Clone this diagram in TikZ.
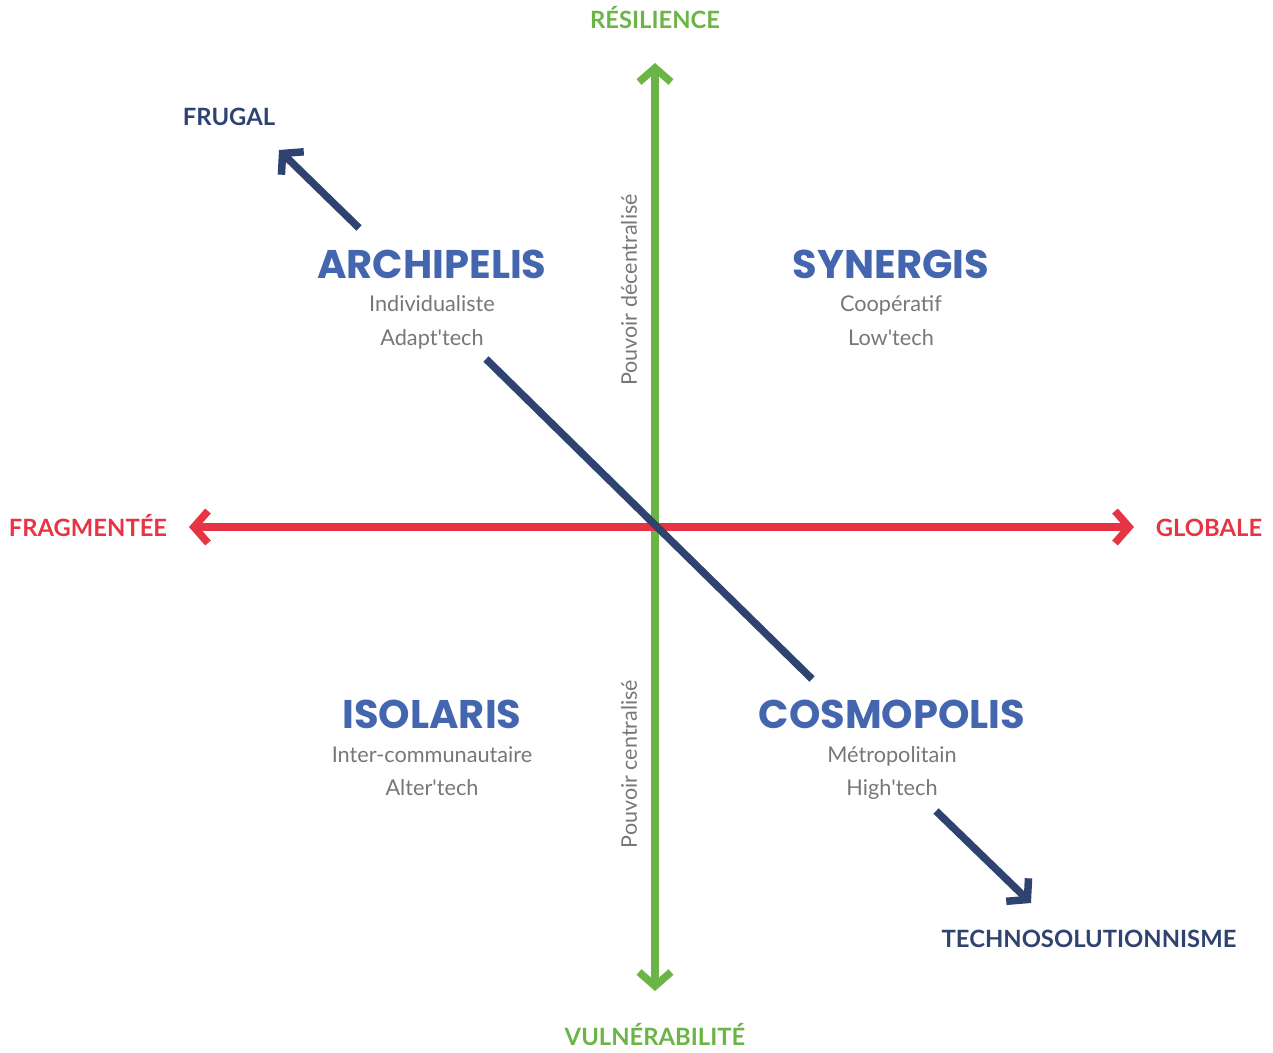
\documentclass[tikz,border=0pt]{standalone}
\usepackage{fontspec}
\setmainfont{Lato}
\newfontfamily\titlefont{Poppins}
\usetikzlibrary{arrows.meta}

\definecolor{axisgreen}{HTML}{6BB547}
\definecolor{axisred}{HTML}{E63444}
\definecolor{navy}{HTML}{2F4370}
\definecolor{titleblue}{HTML}{4466AE}
\definecolor{subgray}{HTML}{777777}

\tikzset{
  barb/.tip={Straight Barb[length=14pt,width=32pt]},
  axis/.style={line width=7.5pt},
  poleA/.style={font=\fontsize{23.8}{24}\selectfont\bfseries, inner sep=0pt, anchor=base},
  scen/.style={font=\titlefont\bfseries\fontsize{40}{40}\selectfont, text=titleblue, inner sep=0pt, anchor=base},
  sub/.style={font=\fontsize{21.7}{22}\selectfont, text=subgray, inner sep=0pt, anchor=base},
  power/.style={font=\fontsize{21.5}{22}\selectfont, text=subgray, inner sep=0pt, rotate=90},
}

\begin{document}
\begin{tikzpicture}[x=1pt,y=-1pt]
\useasboundingbox (0,0) rectangle (1273,1052);

% axis end points
\coordinate (top) at (655,63);
\coordinate (bot) at (655,991);
\coordinate (left) at (189,527);
\coordinate (right) at (1134,527);

% diagonal segments
\coordinate (fa) at (359,228);
\coordinate (ft) at (279,150);
\coordinate (da) at (486,359);
\coordinate (db) at (812,679);
\coordinate (ta) at (936,811);
\coordinate (tt) at (1031,903);

% axes
\draw[axis, axisgreen, barb-barb] (top) -- (bot);
\draw[axis, axisred, barb-barb] (left) -- (right);

% navy diagonal
\draw[axis, navy] (da) -- (db);
\draw[axis, navy, -barb] (fa) -- (ft);
\draw[axis, navy, -barb] (ta) -- (tt);

% pole labels
\node[poleA, text=axisgreen] (res) at (655,28) {RÉSILIENCE};
\node[poleA, text=axisgreen] (vul) at (655,1045) {VULNÉRABILITÉ};
\node[poleA, text=axisred] (frag) at (88,536) {FRAGMENTÉE};
\node[poleA, text=axisred] (glob) at (1209,536) {GLOBALE};
\node[poleA, text=navy] (frug) at (229,125) {FRUGAL};
\node[poleA, text=navy] (techno) at (1089,947) {TECHNOSOLUTIONNISME};

% power labels along the vertical axis
\node[power] (dec) at (629,290) {Pouvoir décentralisé};
\node[power] (cen) at (629,764) {Pouvoir centralisé};

% scenarios
\node[scen] (archi) at (432,278) {ARCHIPELIS};
\node[sub] (archi1) at (432,311) {Individualiste};
\node[sub] (archi2) at (432,345) {Adapt\textquotesingle tech};

\node[scen] (syn) at (891,278) {SYNERGIS};
\node[sub] (syn1) at (891,311) {Coopératif};
\node[sub] (syn2) at (891,345) {Low\textquotesingle tech};

\node[scen] (iso) at (432,728) {ISOLARIS};
\node[sub] (iso1) at (432,762) {Inter-communautaire};
\node[sub] (iso2) at (432,795) {Alter\textquotesingle tech};

\node[scen] (cosmo) at (892,728) {COSMOPOLIS};
\node[sub] (cosmo1) at (892,762) {Métropolitain};
\node[sub] (cosmo2) at (892,795) {High\textquotesingle tech};
\end{tikzpicture}
\end{document}
